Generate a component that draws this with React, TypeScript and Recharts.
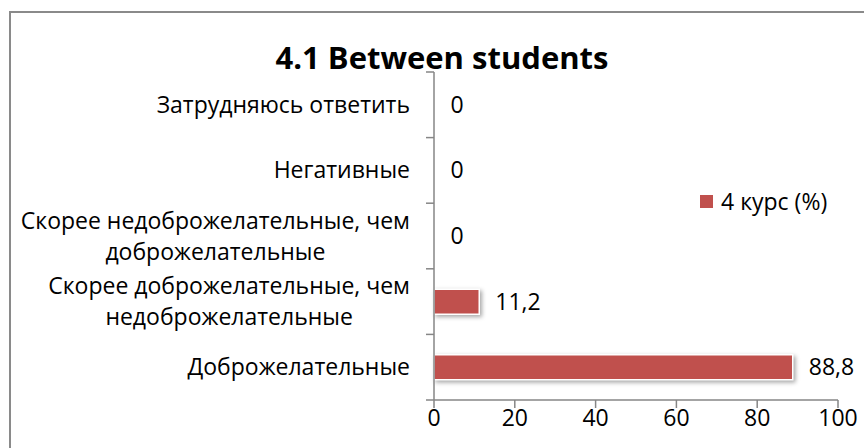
import React from 'react';
import { BarChart, Bar, XAxis, YAxis, LabelList, Legend, Rectangle } from 'recharts';

const categories = [
  'Затрудняюсь ответить',
  'Негативные',
  'Скорее недоброжелательные, чем\nдоброжелательные',
  'Скорее доброжелательные, чем\nнедоброжелательные',
  'Доброжелательные',
];
const values = [0, 0, 0, 11.2, 88.8];
const xTicks = [0, 20, 40, 60, 80, 100];
const seriesName = '4 курс (%)';
const title = '4.1 Between students';

const data = categories.map((c, i) => ({ name: c, value: values[i] }));

const FONT = '"Open Sans", sans-serif';
const LABEL_SIZE = 23;
const RED = '#C0504D';
const AXIS = '#868686';

let ctx: CanvasRenderingContext2D | null = null;
function measure(t: string) {
  if (!ctx) ctx = document.createElement('canvas').getContext('2d');
  if (!ctx) return t.length * LABEL_SIZE * 0.55;
  ctx.font = `${LABEL_SIZE}px "Open Sans"`;
  return ctx.measureText(t).width;
}

const CatTick = (props: any) => {
  const { x, y, payload, index, visibleTicksCount } = props;
  const lines: string[] = String(payload.value).split('\n');
  const w = Math.max(...lines.map(measure));
  const axisX = x + 8;
  const right = axisX - 24;
  const lh = 31;
  const start = y - ((lines.length - 1) * lh) / 2;
  const half = payload.offset || 0;
  return (
    <g>
      <line x1={axisX - 8} x2={axisX} y1={y - half} y2={y - half} stroke={AXIS} strokeWidth={1.5} />
      {index === visibleTicksCount - 1 && (
        <line x1={axisX - 8} x2={axisX} y1={y + half} y2={y + half} stroke={AXIS} strokeWidth={1.5} />
      )}
      {lines.map((l, i) => (
        <text
          key={i}
          x={lines.length > 1 ? right - w / 2 : right}
          y={start + i * lh}
          dy="0.35em"
          textAnchor={lines.length > 1 ? 'middle' : 'end'}
          fontFamily={FONT}
          fontSize={LABEL_SIZE}
          fill="#000"
        >
          {l}
        </text>
      ))}
    </g>
  );
};

const BarShape = (props: any) => {
  const { value, payload } = props;
  const v = payload && typeof payload.value === 'number' ? payload.value : value;
  if (!v) return <g />;
  return (
    <Rectangle
      {...props}
      fill={RED}
      stroke="#fff"
      strokeWidth={1.5}
      style={{ filter: 'drop-shadow(2px 2px 2px rgba(0,0,0,0.35))' }}
    />
  );
};

const ValueLabel = (props: any) => {
  const { x, y, width, height, value } = props;
  return (
    <text
      x={x + (width || 0) + 16}
      y={y + height / 2}
      dy="0.35em"
      textAnchor="start"
      fontFamily={FONT}
      fontSize={LABEL_SIZE}
      fill="#000"
    >
      {String(value).replace('.', ',')}
    </text>
  );
};

const LegendContent = (props: any) => {
  const { payload } = props;
  return (
    <div style={{ fontFamily: FONT, fontSize: LABEL_SIZE, color: '#000', whiteSpace: 'nowrap' }}>
      {(payload || []).map((p: any, i: number) => (
        <div key={i} style={{ display: 'flex', alignItems: 'center' }}>
          <span style={{ display: 'inline-block', width: 13, height: 13, background: RED, marginRight: 8 }} />
          <span>{p.value}</span>
        </div>
      ))}
    </div>
  );
};

export default function App() {
  return (
    <div style={{ position: 'absolute', left: 0, top: 0, width: 864, height: 448, overflow: 'hidden', background: '#fff' }}>
      <div
        style={{
          position: 'absolute',
          left: 9,
          top: 11,
          width: 900,
          height: 500,
          border: '2px solid #8a8a8a',
          boxSizing: 'border-box',
        }}
      />
      <div
        style={{
          position: 'absolute',
          left: 0,
          top: 36,
          width: 884,
          textAlign: 'center',
          fontFamily: FONT,
          fontWeight: 700,
          fontSize: 31,
          color: '#000',
          lineHeight: '42px',
        }}
      >
        {title}
      </div>
      <div style={{ position: 'absolute', left: 0, top: 0 }}>
        <BarChart
          width={864}
          height={448}
          data={data}
          layout="vertical"
          margin={{ top: 72, right: 26, bottom: 8, left: 0 }}
          barCategoryGap="31%"
        >
          <XAxis
            type="number"
            domain={[0, 100]}
            ticks={xTicks}
            height={40}
            stroke={AXIS}
            tickSize={8}
            tick={{ fill: '#000', fontFamily: FONT, fontSize: LABEL_SIZE }}
            axisLine={{ stroke: AXIS, strokeWidth: 1.5 }}
            tickLine={{ stroke: AXIS, strokeWidth: 1.5 }}
          />
          <YAxis
            type="category"
            dataKey="name"
            width={434}
            axisLine={{ stroke: AXIS, strokeWidth: 1.5 }}
            tickLine={false}
            tick={<CatTick />}
            interval={0}
          />
          <Legend
            layout="horizontal"
            verticalAlign="middle"
            align="center"
            content={<LegendContent />}
            wrapperStyle={{ position: 'absolute', left: 700, top: 185, width: 160 }}
          />
          <Bar
            dataKey="value"
            name={seriesName}
            fill={RED}
            minPointSize={0.5}
            isAnimationActive={false}
            shape={<BarShape />}
          >
            <LabelList dataKey="value" content={<ValueLabel />} />
          </Bar>
        </BarChart>
      </div>
    </div>
  );
}
